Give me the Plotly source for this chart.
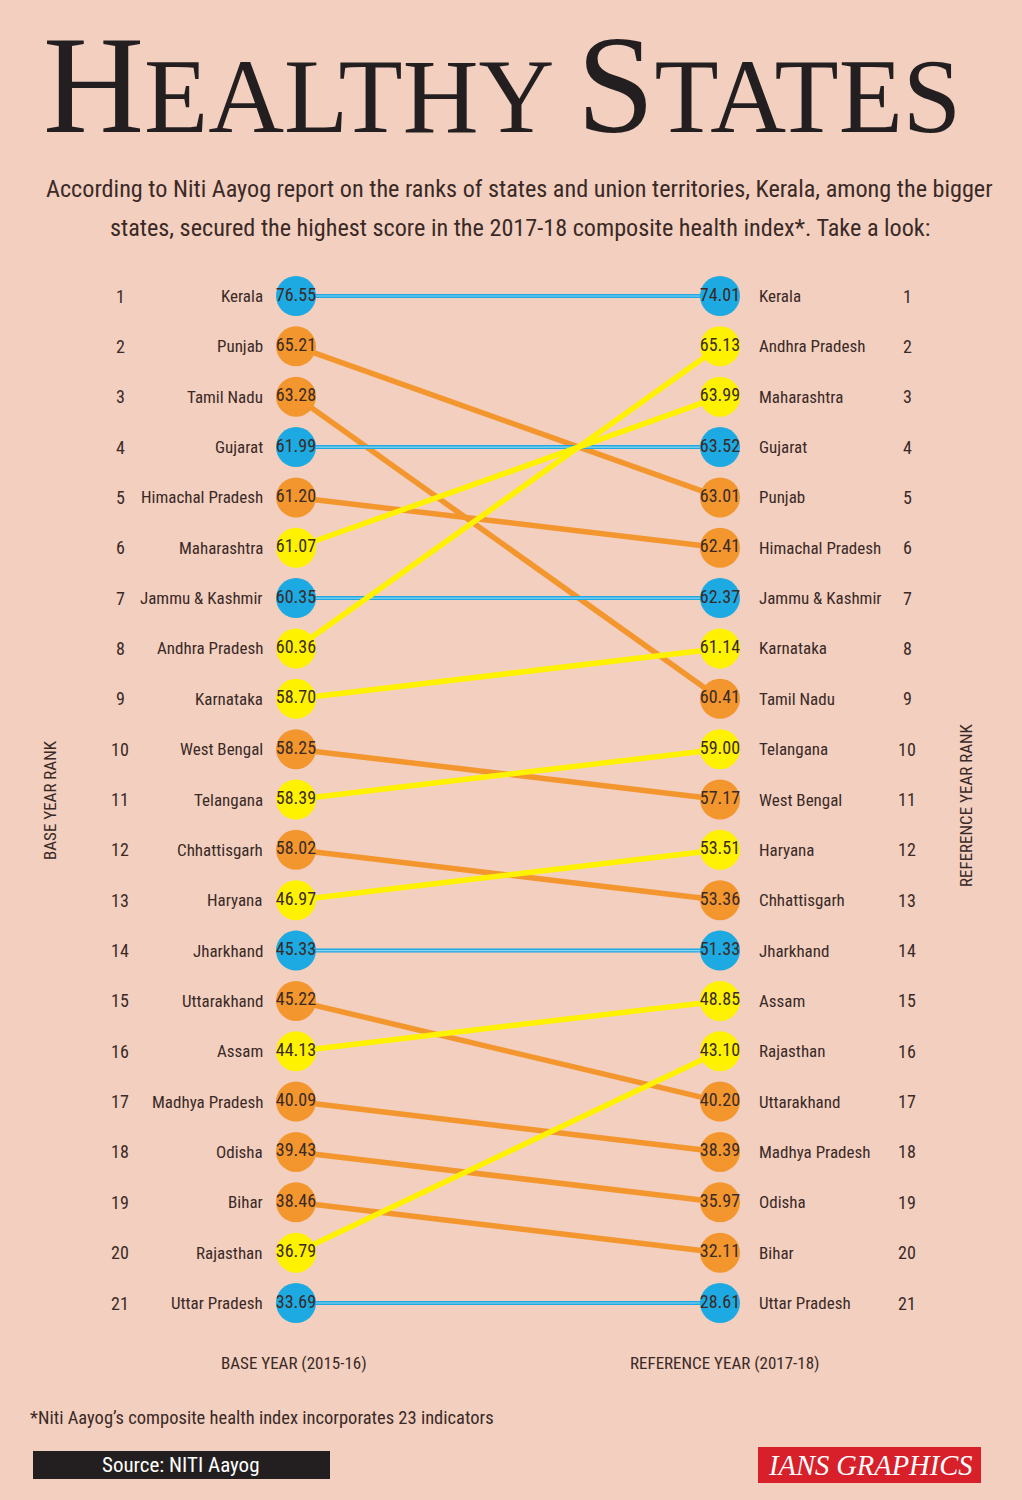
import plotly.graph_objects as go

# ---------------- data ----------------
base_states = ["Kerala", "Punjab", "Tamil Nadu", "Gujarat", "Himachal Pradesh", "Maharashtra",
               "Jammu & Kashmir", "Andhra Pradesh", "Karnataka", "West Bengal", "Telangana",
               "Chhattisgarh", "Haryana", "Jharkhand", "Uttarakhand", "Assam", "Madhya Pradesh",
               "Odisha", "Bihar", "Rajasthan", "Uttar Pradesh"]
base_scores = [76.55, 65.21, 63.28, 61.99, 61.20, 61.07, 60.35, 60.36, 58.70, 58.25, 58.39,
               58.02, 46.97, 45.33, 45.22, 44.13, 40.09, 39.43, 38.46, 36.79, 33.69]
ref_states = ["Kerala", "Andhra Pradesh", "Maharashtra", "Gujarat", "Punjab", "Himachal Pradesh",
              "Jammu & Kashmir", "Karnataka", "Tamil Nadu", "Telangana", "West Bengal", "Haryana",
              "Chhattisgarh", "Jharkhand", "Assam", "Rajasthan", "Uttarakhand", "Madhya Pradesh",
              "Odisha", "Bihar", "Uttar Pradesh"]
ref_scores = [74.01, 65.13, 63.99, 63.52, 63.01, 62.41, 62.37, 61.14, 60.41, 59.00, 57.17,
              53.51, 53.36, 51.33, 48.85, 43.10, 40.20, 38.39, 35.97, 32.11, 28.61]
ranks = list(range(1, 22))

# ---------------- style ----------------
W, H = 1022, 1500
BG = "#F3CFBF"
BLUE = "#1DA9E1"
ORANGE = "#F3962E"
YELLOW = "#FFF200"
TXT = "#3A2A27"
NARROW = "Roboto Condensed, DejaVu Sans, sans-serif"
SERIF = "Liberation Serif, DejaVu Serif, Times New Roman, serif"


def cond(s):
    return '<span style="font-stretch:condensed">' + s + '</span>'


# x: 0 -> base column, 1 -> reference column; pixel mapping 0->296, 1->720
XL, XR = 296, 720
ppx = XR - XL
x0 = -XL / ppx
xrange = [x0, x0 + W / ppx]
# y: rank 1 -> 296 px, rank 21 -> 1303 px
Y1, Y21 = 296, 1303
ppy = (Y21 - Y1) / 20
ytop = 1 - Y1 / ppy
yrange = [ytop + H / ppy, ytop]


def col(s):
    rb = base_states.index(s) + 1
    rr = ref_states.index(s) + 1
    if rr < rb:
        return YELLOW
    if rr > rb:
        return ORANGE
    return BLUE


fig = go.Figure()

# connecting lines
for i, s in enumerate(base_states):
    c = col(s)
    rr = ref_states.index(s) + 1
    if c == BLUE:
        fig.add_trace(go.Scatter(x=[0, 1], y=[ranks[i], rr], mode="lines",
                                 line=dict(color=BLUE, width=4), hoverinfo="skip", showlegend=False))
        fig.add_trace(go.Scatter(x=[0, 1], y=[ranks[i], rr], mode="lines",
                                 line=dict(color="#8FD3EE", width=1.2), hoverinfo="skip", showlegend=False))
    else:
        fig.add_trace(go.Scatter(x=[0, 1], y=[ranks[i], rr], mode="lines",
                                 line=dict(color=c, width=5.5), hoverinfo="skip", showlegend=False))

# circles with scores
fig.add_trace(go.Scatter(
    x=[0] * 21, y=ranks, mode="markers+text",
    marker=dict(size=40, color=[col(s) for s in base_states], line=dict(width=0)),
    text=[cond(f"{v:.2f}") for v in base_scores], textposition="middle center",
    textfont=dict(family=NARROW, size=18, color=TXT), hoverinfo="skip", showlegend=False))
fig.add_trace(go.Scatter(
    x=[1] * 21, y=ranks, mode="markers+text",
    marker=dict(size=40, color=[col(s) for s in ref_states], line=dict(width=0)),
    text=[cond(f"{v:.2f}") for v in ref_scores], textposition="middle center",
    textfont=dict(family=NARROW, size=18, color=TXT), hoverinfo="skip", showlegend=False))

ann = []
# state names
for r, s in zip(ranks, base_states):
    ann.append(dict(x=0, y=r, xref="x", yref="y", text=cond(s), showarrow=False, xanchor="right",
                    yanchor="middle", xshift=-31, font=dict(family=NARROW, size=17, color=TXT)))
for r, s in zip(ranks, ref_states):
    ann.append(dict(x=1, y=r, xref="x", yref="y", text=cond(s), showarrow=False, xanchor="left",
                    yanchor="middle", xshift=37, font=dict(family=NARROW, size=17, color=TXT)))
# rank numbers
for r in ranks:
    ann.append(dict(x=120 / W, y=r, xref="paper", yref="y", text=cond(str(r)), showarrow=False,
                    xanchor="center", yanchor="middle", font=dict(family=NARROW, size=18, color=TXT)))
    ann.append(dict(x=907 / W, y=r, xref="paper", yref="y", text=cond(str(r)), showarrow=False,
                    xanchor="center", yanchor="middle", font=dict(family=NARROW, size=18, color=TXT)))


def P(px, py):
    return px / W, 1 - py / H


def label(px, py, text, font, xanchor="center", **kw):
    x, y = P(px, py)
    ann.append(dict(x=x, y=y, xref="paper", yref="paper", showarrow=False, xanchor=xanchor,
                    yanchor="middle", text=text, font=font, **kw))


# title
label(502, 84, '<span style="font-size:140px">H</span>EALTHY <span style="font-size:140px">S</span>TATES',
      dict(family=SERIF, size=105, color="#231F20"))
# subtitle (two lines)
label(519, 189, cond("According to Niti Aayog report on the ranks of states and union territories, Kerala, among the bigger"),
      dict(family=NARROW, size=24.2, color=TXT))
label(520, 228, cond("states, secured the highest score in the 2017-18 composite health index*. Take a look:"),
      dict(family=NARROW, size=24.2, color=TXT))
# vertical axis titles
label(50, 800, cond("BASE YEAR RANK"), dict(family=NARROW, size=17, color=TXT), textangle=-90)
label(966, 805, cond("REFERENCE YEAR RANK"), dict(family=NARROW, size=17, color=TXT), textangle=-90)
# column titles
label(294, 1363, cond("BASE YEAR (2015-16)"), dict(family=NARROW, size=17, color=TXT))
label(725, 1363, cond("REFERENCE YEAR (2017-18)"), dict(family=NARROW, size=17, color=TXT))
# footnote
label(28, 1418, cond("*Niti Aayog\u2019s composite health index incorporates 23 indicators"),
      dict(family=NARROW, size=18.5, color=TXT), xanchor="left")
# source / credit boxes
label(181, 1465, cond("Source: NITI Aayog"), dict(family=NARROW, size=21, color="white"))
label(870, 1465, "<i>IANS GRAPHICS</i>", dict(family=SERIF, size=28.5, color="white"))

shapes = [
    dict(type="rect", xref="paper", yref="paper", x0=33 / W, x1=330 / W, y0=1 - 1479 / H, y1=1 - 1451 / H,
         fillcolor="#231F20", line=dict(width=0), layer="below"),
    dict(type="rect", xref="paper", yref="paper", x0=758 / W, x1=981 / W, y0=1 - 1483 / H, y1=1 - 1447 / H,
         fillcolor="#D7202A", line=dict(width=0), layer="below"),
]

fig.update_layout(
    width=W, height=H, margin=dict(l=0, r=0, t=0, b=0),
    paper_bgcolor=BG, plot_bgcolor=BG,
    xaxis=dict(range=xrange, visible=False, fixedrange=True),
    yaxis=dict(range=yrange, visible=False, fixedrange=True),
    annotations=ann, shapes=shapes, showlegend=False,
)

fig.write_html("out.html")
